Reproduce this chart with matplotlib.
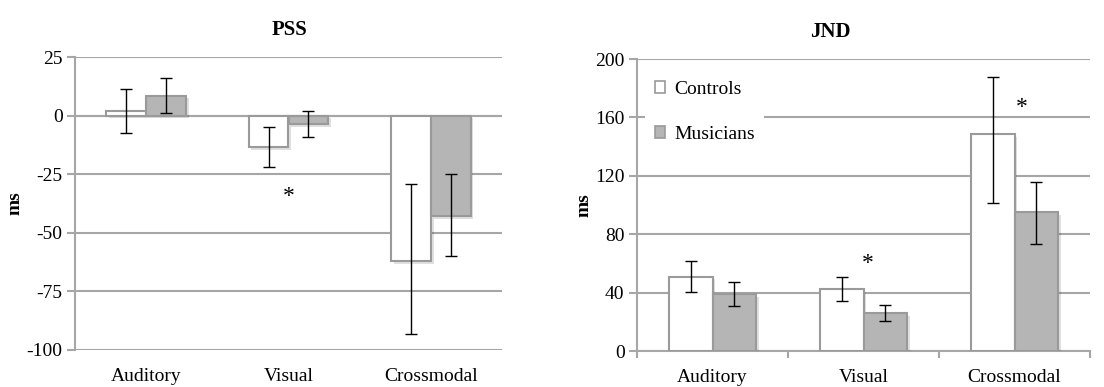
import matplotlib.pyplot as plt
import matplotlib.patheffects as pe
import numpy as np
from matplotlib.patches import Patch

plt.rcParams['font.family'] = ['Liberation Serif', 'DejaVu Serif']
plt.rcParams['axes.unicode_minus'] = False

categories = ['Auditory', 'Visual', 'Crossmodal']
groups = ['Controls', 'Musicians']

# PSS (ms): means, lower / upper error lengths
pss_controls = [2, -13.5, -62]
pss_controls_err = [[9.5, 8.5, 31], [9.5, 8.5, 33]]
pss_musicians = [8.5, -3.5, -43]
pss_musicians_err = [[7.5, 5.5, 17], [7.5, 5.5, 18]]

# JND (ms): means, lower / upper error lengths
jnd_controls = [51, 42.5, 148.5]
jnd_controls_err = [[10.5, 8.5, 47], [10.5, 8.5, 39.5]]
jnd_musicians = [39, 26, 95]
jnd_musicians_err = [[8, 5.5, 22], [8, 5.5, 21]]

grid_col = '#a6a6a6'
edge_col = '#9a9a9a'
fill_col = ['white', '#b5b5b5']
fs = 14
shadow = [pe.SimplePatchShadow(offset=(2, -2), shadow_rgbFace='#000000', alpha=0.12), pe.Normal()]

fig = plt.figure(figsize=(11.04, 3.87), dpi=100)
ax1 = fig.add_axes([75 / 1104, 1 - 350 / 387, 427 / 1104, 293 / 387])
ax2 = fig.add_axes([637 / 1104, 1 - 351 / 387, 453 / 1104, 292 / 387])


def draw(ax, ctrl, ctrl_err, mus, mus_err, width):
    x = np.arange(len(categories)) + 0.5
    for vals, errs, off, col in [(ctrl, ctrl_err, -width / 2, fill_col[0]),
                                 (mus, mus_err, width / 2, fill_col[1])]:
        bars = ax.bar(x + off, vals, width=width, color=col, edgecolor=edge_col,
                      linewidth=1.5, zorder=3)
        for b in bars:
            b.set_path_effects(shadow)
        ax.errorbar(x + off, vals, yerr=errs, fmt='none', ecolor='black',
                    elinewidth=1, capsize=4.5, capthick=1, zorder=4)
    ax.set_xlim(0, len(categories))
    ax.set_xticks([])
    ax.yaxis.grid(True, color=grid_col, linewidth=1.5, zorder=0)
    ax.set_axisbelow(True)
    for s in ['top', 'right', 'bottom']:
        ax.spines[s].set_visible(False)
    ax.spines['left'].set_color(grid_col)
    ax.spines['left'].set_linewidth(1.5)
    ax.tick_params(axis='y', length=6, width=1.5, color=grid_col, labelsize=fs, pad=3)
    for i, c in enumerate(categories):
        ax.text(i + 0.5, -0.062, c, transform=ax.get_xaxis_transform(),
                ha='center', va='top', fontsize=fs)
    ax.set_ylabel('ms', fontsize=fs, fontweight='bold', labelpad=2)
    return x


# PSS panel
x = draw(ax1, pss_controls, pss_controls_err, pss_musicians, pss_musicians_err, 0.28)
ax1.set_ylim(-100, 25)
ax1.set_yticks([25, 0, -25, -50, -75, -100])
ax1.axhline(0, color=grid_col, linewidth=1.5, zorder=2)
ax1.text(x[1], -34.5, '*', ha='center', va='center', fontsize=17)

# JND panel
x = draw(ax2, jnd_controls, jnd_controls_err, jnd_musicians, jnd_musicians_err, 0.29)
ax2.set_ylim(0, 200)
ax2.set_yticks([0, 40, 80, 120, 160, 200])
ax2.spines['bottom'].set_visible(True)
ax2.spines['bottom'].set_color(grid_col)
ax2.spines['bottom'].set_linewidth(1.5)
ax2.set_xticks([0, 1, 2, 3])
ax2.set_xticklabels([])
ax2.tick_params(axis='x', length=5, width=1.5, color=grid_col, direction='out')
ax2.text(x[1] + 0.03, 60, '*', ha='center', va='center', fontsize=17)
ax2.text(x[2] + 0.05, 167, '*', ha='center', va='center', fontsize=17)

handles = [Patch(facecolor=fill_col[0], edgecolor=edge_col, linewidth=1.2),
           Patch(facecolor=fill_col[1], edgecolor=edge_col, linewidth=1.2)]
leg = ax2.legend(handles, groups, loc='upper left', bbox_to_anchor=(0.0, 0.985),
                 frameon=True, fontsize=fs, handlelength=0.55, handleheight=0.55,
                 handletextpad=0.45, labelspacing=1.45, borderpad=0.5,
                 borderaxespad=0.4)
leg.get_frame().set_edgecolor('none')
leg.get_frame().set_facecolor('white')
leg.get_frame().set_alpha(1)
leg.set_zorder(5)

fig.text(290 / 1104, 1 - 30 / 387, 'PSS', ha='center', va='center', fontsize=15, fontweight='bold')
fig.text(830 / 1104, 1 - 32 / 387, 'JND', ha='center', va='center', fontsize=15, fontweight='bold')

plt.savefig('out.png', dpi=100)
